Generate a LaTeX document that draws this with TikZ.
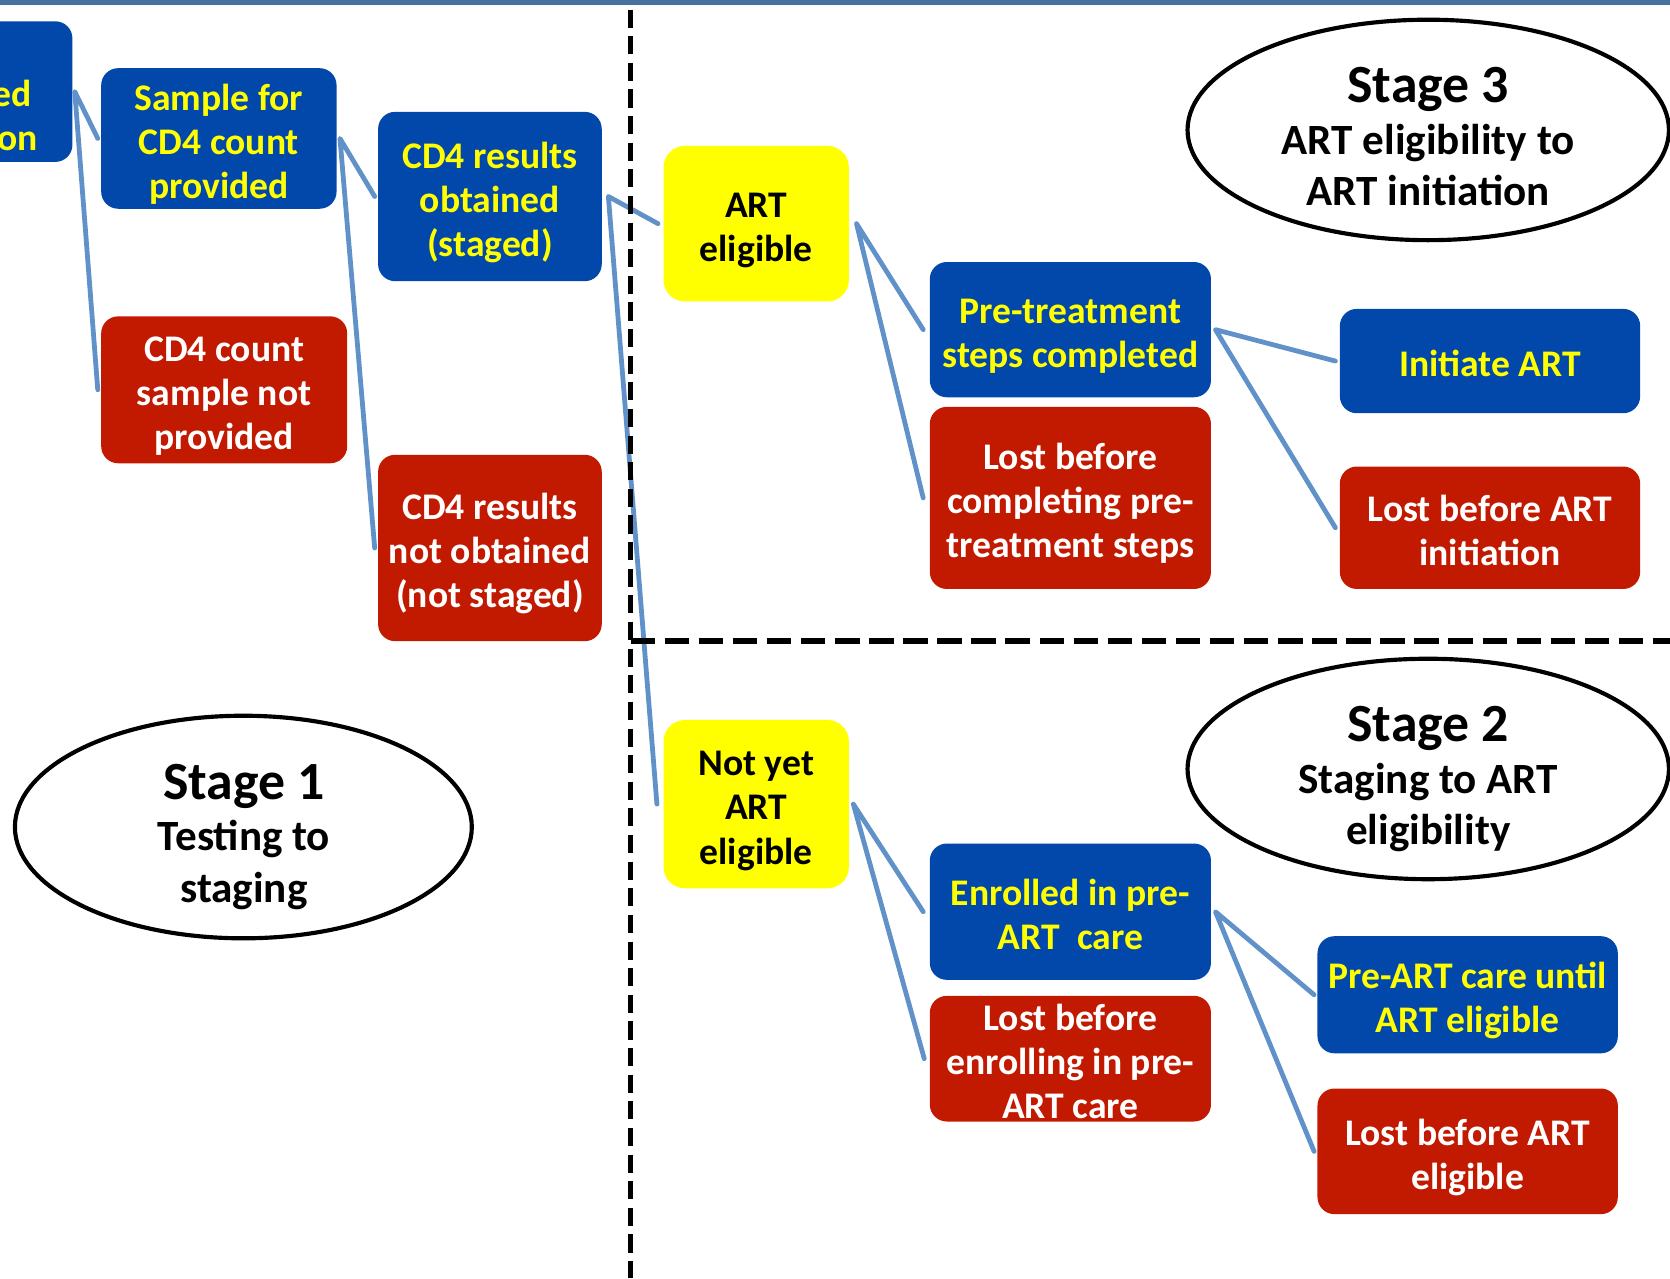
\documentclass[tikz,border=0pt]{standalone}
\usepackage{fontspec}
\setmainfont{Carlito}
\usetikzlibrary{shapes.geometric}
\definecolor{bx}{RGB}{2,72,170}
\definecolor{rd}{RGB}{194,26,0}
\definecolor{yl}{RGB}{255,255,0}
\definecolor{cn}{RGB}{96,146,201}
\definecolor{tb}{RGB}{70,114,158}
\newcommand\topstr{\rule{0pt}{33pt}}
\newcommand\botstr{\rule[-9pt]{0pt}{9pt}}
\newcommand\boxnode[6]{%
  \node[#1, sz={#4}{#5}] (#2) at (#3) {};
  \node[#1text] (#2t) at ([yshift=-2.8pt]#2.center) {\topstr #6\botstr};}
\begin{document}
\begin{tikzpicture}[x=1pt,y=-1pt,
  every node/.style={font=\bfseries\fontsize{35.3}{41.5}\selectfont, align=center, inner sep=0pt},
  bluebox/.style={rounded corners=16pt, fill=bx},
  redbox/.style={rounded corners=16pt, fill=rd},
  yelbox/.style={rounded corners=20pt, fill=yl},
  blueboxtext/.style={text=yl},
  redboxtext/.style={text=white},
  yelboxtext/.style={text=black},
  sz/.style 2 args={minimum width=#1pt, minimum height=#2pt},
  conn/.style={draw=cn, line width=4.5pt, line join=round, line cap=round},
  stage/.style={draw=black, line width=3.9pt, ellipse},
  stagetext/.style={font=\bfseries\fontsize{40.5}{48.5}\selectfont, anchor=north},
  divider/.style={draw=black, line width=5.5pt}
]
\useasboundingbox (0,0) rectangle (1568,1200);
\clip (0,0) rectangle (1568,1200);
\fill[tb] (0,0) rectangle (1568,4.4);

% boxes
\node[bluebox, sz={220}{132}] (n0) at (-42,86) {};
\node[text=yl, anchor=base east] (n0a) at (30,100) {ed};
\node[text=yl, anchor=base east] (n0b) at (36,141) {on};
\boxnode{bluebox}{n1}{205.5,130}{221}{132}{Sample for\\CD4 count\\provided}
\boxnode{redbox}{n2}{210.5,366}{231}{138}{CD4 count\\sample not\\provided}
\boxnode{bluebox}{n3}{460,184.5}{210}{159}{CD4 results\\obtained\\(staged)}
\boxnode{redbox}{n4}{460,514.5}{210}{175}{CD4 results\\not obtained\\(not staged)}
\boxnode{yelbox}{n5}{710,210}{174}{146}{ART\\eligible}
\boxnode{yelbox}{n6}{710,755}{174}{158}{Not yet\\ART\\eligible}
\boxnode{bluebox}{n7}{1005,309.5}{264}{127}{Pre-treatment\\steps completed}
\boxnode{redbox}{n8}{1005,467.5}{264}{171}{Lost before\\completing pre-\\treatment steps}
\boxnode{bluebox}{n9}{1399,339}{282}{98}{Initiate ART}
\boxnode{redbox}{n10}{1399,495.5}{282}{115}{Lost before ART\\initiation}
\boxnode{bluebox}{n11}{1005,856}{264}{128}{Enrolled in pre-\\ART\ \ care}
\boxnode{redbox}{n12}{1005,994}{264}{118}{Lost before\\enrolling in pre-\\ART care}
\boxnode{bluebox}{n13}{1378,934}{282}{110}{Pre-ART care until\\ART eligible}
\boxnode{redbox}{n14}{1378,1081}{282}{118}{Lost before ART\\eligible}

% connectors
\draw[conn] ([xshift=-3pt]n1.west) -- ([xshift=2pt]n0.east) -- ([xshift=-3pt]n2.west);
\draw[conn] ([xshift=-3pt]n3.west) -- ([xshift=3pt]n1.east) -- ([xshift=-3pt]n4.west);
\draw[conn] ([xshift=-5pt]n5.west) -- ([xshift=6pt]n3.east) -- ([xshift=-6pt]n6.west);
\draw[conn] ([xshift=-6pt]n7.west) -- ([xshift=7pt]n5.east) -- ([xshift=-6pt]n8.west);
\draw[conn] ([xshift=-4pt]n9.west) -- ([xshift=4pt]n7.east) -- ([xshift=-4pt]n10.west);
\draw[conn] ([xshift=-6pt]n11.west) -- ([xshift=4pt]n6.east) -- ([xshift=-5pt]n12.west);
\draw[conn] ([xshift=-3pt]n13.west) -- ([xshift=4pt]n11.east) -- ([xshift=-3pt]n14.west);

% dividers
\coordinate (vt) at (592,9);
\coordinate (vb) at (592,1200);
\coordinate (hl) at (592,602);
\coordinate (hr) at (1570,602);
\draw[divider, dash pattern=on 17pt off 8pt] (vt) -- (vb);
\draw[divider, line width=5.5pt, dash pattern=on 23pt off 9pt] (hl) -- (hr);

% stages
\node[stage, minimum width=452pt, minimum height=207pt] (E3) at (1341,122) {};
\node[stagetext] (E3t) at (1341,63) {{\fontsize{50.5}{48.5}\selectfont Stage 3}\\ART eligibility to\\ART initiation};
\node[stage, minimum width=452pt, minimum height=207pt] (E2) at (1341,722) {};
\node[stagetext] (E2t) at (1341,663) {{\fontsize{50.5}{48.5}\selectfont Stage 2}\\Staging to ART\\eligibility};
\node[stage, minimum width=429pt, minimum height=209pt] (E1) at (228.5,776.5) {};
\node[stagetext] (E1t) at (229,717) {{\fontsize{50.5}{48.5}\selectfont Stage 1}\\Testing to\\staging};
\end{tikzpicture}
\end{document}
